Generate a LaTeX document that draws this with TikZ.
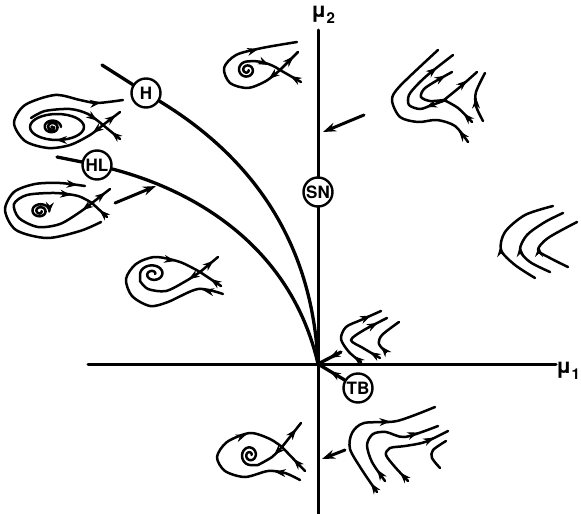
\documentclass[tikz,border=0pt]{standalone}
\usepackage{fontspec}
\setsansfont{TeX Gyre Heros}
\usetikzlibrary{arrows.meta,calc}

% arrowhead on the chord #2--#3, tip at fraction #1
\newcommand{\ftip}[3][0.6]{%
  \path ($#2!#1!#3$) coordinate (ft);
  \draw[tip] ($(ft)!1pt!#2$) -- (ft);}

\begin{document}
\begin{tikzpicture}[
    x=1pt, y=-1pt,
    line cap=round, line join=round,
    axis/.style={line width=3pt},
    bif/.style={line width=3.3pt},
    orbit/.style={line width=2.5pt},
    pointer/.style={line width=3pt, -{Stealth[length=13pt,width=9pt]}},
    tip/.style={line width=1pt, -{Stealth[length=11pt,width=8pt]}},
    bifpt/.style={
        circle,
        draw,
        line width=2.4pt,
        fill=white,
        minimum size=29pt,
        inner sep=0pt,
        font=\sffamily\bfseries\fontsize{17}{17}\selectfont
    },
    axlabel/.style={font=\sffamily\bfseries\fontsize{21}{21}\selectfont}
]
\useasboundingbox (0,0) rectangle (581,514);

% axes
\draw[axis] (88,364) -- (556,364);
\draw[axis] (318,30) -- (318,514);
\node[axlabel] (mu1) at (568,371) {μ\raisebox{-0.55ex}{\fontsize{15}{15}\selectfont 1}};
\node[axlabel] (mu2) at (323,15) {μ\raisebox{-0.55ex}{\fontsize{15}{15}\selectfont 2}};

% bifurcation curves
\coordinate (O) at (318,364);
\coordinate (Hs) at (102,65);
\coordinate (HLs) at (57,157);
\node[bifpt] (H) at (146,93) {H};
\node[bifpt] (HL) at (97,165) {HL};
\node[bifpt] (SN) at (318,192) {SN};
\node[bifpt] (TB) at (358,388) {TB};

\draw[bif] (Hs) -- (H);
\draw[bif] (H) .. controls (240,150) and (312,230) .. (O);
\draw[bif] (HLs) -- (HL);
\draw[bif] (HL) .. controls (200,192) and (292,250) .. (O);
\draw[bif] (TB) -- (O);
\ftip[0.7]{(358,388)}{(318,364)}

% region pointers
\coordinate (pE) at (341,352);
\coordinate (pF) at (364,115);
\coordinate (qF) at (323,132);
\coordinate (pC) at (115,203);
\coordinate (qC) at (156,186);
\coordinate (pI) at (345,450);
\coordinate (qI) at (322,459);
\draw[bif] (pE) -- (O);
\ftip[0.5]{(341,352)}{(318,364)}
\draw[pointer] (pF) -- (qF);
\draw[pointer] (pC) -- (qC);
\draw[pointer] (pI) -- (qI);

\begin{scope}[orbit]
% above H
\draw (280,70) -- (298,52);
\draw (301,82) -- (280,70);
\draw plot[smooth] coordinates {(280,70) (266,81) (248,88) (230,83) (224,68) (236,55) (262,48) (297,42)};
\draw plot[domain=0:630, samples=60, smooth, variable=\t] ({247+(1.5+7.5*\t/630)*cos(\t)}, {70+(1.5+7*\t/630)*sin(\t)}) .. controls (258,60) and (270,63) .. (280,70);
\ftip[0.75]{(280,70)}{(298,52)}
\ftip[0.5]{(301,82)}{(280,70)}
\ftip[0.8]{(280,70)}{(266,81)}
\ftip[0.85]{(236,55)}{(262,48)}
\ftip[0.5]{(258,60)}{(280,70)}

% between H and HL
\draw (103,125) -- (120,112);
\draw (120,139) -- (103,125);
\draw plot[smooth] coordinates {(103,125) (90,135) (70,145) (48,148) (25,141) (14,123) (25,105) (55,95) (80,100) (97,103) (123,100)};
\draw (57,127) ellipse [x radius=27, y radius=13];
\draw plot[smooth] coordinates {(31,118) (45,111) (70,109) (88,114) (103,125)};
\draw plot[domain=0:720, samples=60, smooth, variable=\t] ({52+(2+7*\t/720)*cos(\t)}, {127+(2+5*\t/720)*sin(\t)});
\fill (52,127) circle (1.8);
\ftip[0.75]{(103,125)}{(120,112)}
\ftip[0.5]{(120,139)}{(103,125)}
\ftip[0.8]{(103,125)}{(90,135)}
\ftip[0.15]{(97,103)}{(123,100)}
\ftip[0.6]{(65,140)}{(50,140)}
\ftip[0.6]{(88,114)}{(103,125)}

% on HL
\draw (92,203) -- (110,189);
\draw (107,217) -- (92,203);
\draw plot[smooth] coordinates {(92,203) (80,212) (60,224) (38,227) (19,218) (14,204) (27,195) (55,193) (78,196) (92,203)};
\draw plot[smooth] coordinates {(101,222) (80,231) (47,238) (16,230) (5,210) (14,192) (35,184) (60,183) (85,186)};
\draw plot[domain=0:720, samples=60, smooth, variable=\t] ({40+(1.5+8*\t/720)*cos(\t)}, {211+(1.5+6*\t/720)*sin(\t)});
\ftip[0.75]{(92,203)}{(110,189)}
\ftip[0.5]{(107,217)}{(92,203)}
\ftip[0.8]{(92,203)}{(80,212)}
\ftip[0.7]{(55,193)}{(78,196)}
\ftip[0.7]{(60,183)}{(85,186)}
\ftip[1]{(49.5,207)}{(49,213)}

% below HL
\draw (200,272) -- (218,257);
\draw (221,286) -- (200,272);
\draw plot[smooth] coordinates {(223,294) (198,289) (168,302) (150,306) (132,296) (126,279) (136,264) (155,257) (180,262) (200,272)};
\draw plot[smooth] coordinates {(200,272) (186,281) (166,291) (148,289) (140,281)} -- plot[domain=180:720, samples=50, smooth, variable=\t] ({153+(13-11*(\t-180)/540)*cos(\t)}, {274+(10-8.5*(\t-180)/540)*sin(\t)});
\ftip[0.75]{(200,272)}{(218,257)}
\ftip[0.5]{(221,286)}{(200,272)}
\ftip[0.8]{(223,294)}{(198,289)}
\ftip[0.8]{(155,257)}{(180,262)}
\ftip[0.8]{(200,272)}{(186,281)}

% near TB
\draw plot[smooth] coordinates {(361,362) (349,352) (341,339) (346,327) (361,320) (381,311)};
\draw plot[smooth] coordinates {(380,358) (363,348) (351,340) (364,330) (387,318)};
\draw plot[smooth] coordinates {(386,352) (379,344) (382,335) (399,322)};
\ftip[0.6]{(361,362)}{(349,352)}
\ftip[0.5]{(361,320)}{(381,311)}
\ftip[0.6]{(380,358)}{(363,348)}
\ftip[0.6]{(364,330)}{(387,318)}
\ftip[0.7]{(386,352)}{(379,344)}

% right of SN
\draw plot[smooth] coordinates {(468,142) (455,126) (437,120) (418,122) (400,117) (392,100) (400,86) (438,50)};
\draw plot[smooth] coordinates {(446,100) (432,105) (420,109) (409,105) (409,95) (418,84) (430,73) (453,55)};
\draw plot[smooth] coordinates {(444,100) (430,101) (421,97) (424,89) (436,81) (452,72)};
\draw plot[smooth] coordinates {(444,100) (460,87) (477,72)};
\draw plot[smooth] coordinates {(472,122) (458,108) (444,100)};
\draw plot[smooth] coordinates {(483,121) (476,106) (476,92) (485,73)};
\ftip[0.7]{(468,142)}{(455,126)}
\ftip[0.5]{(432,105)}{(420,109)}
\ftip[0.3]{(430,73)}{(453,55)}
\ftip[0.6]{(436,81)}{(452,72)}
\ftip[0.7]{(444,100)}{(477,72)}
\ftip[0.6]{(472,122)}{(458,108)}
\ftip[0.6]{(476,106)}{(476,92)}

% far right
\draw plot[smooth] coordinates {(535,278) (515,265) (501,250) (505,232) (525,215) (553,206)};
\draw plot[smooth] coordinates {(550,272) (530,262) (520,250) (527,235) (545,222) (563,213)};
\draw plot[smooth] coordinates {(568,267) (550,258) (538,250) (548,238) (577,222)};
\ftip[1]{(501,254)}{(500.5,246)}
\ftip[1]{(520.5,254)}{(520,246)}
\ftip[1]{(539,254)}{(539,246)}

% lower left
\draw (282,447) -- (301,423);
\draw (305,471) -- (282,447);
\draw plot[smooth] coordinates {(300,480) (285,473) (268,471) (245,477) (225,471) (217,457) (227,442) (250,433) (270,439) (282,447)};
\draw plot[smooth] coordinates {(282,447) (272,457) (258,465)} -- plot[domain=90:720, samples=50, smooth, variable=\t] ({250+(9-7.5*(\t-90)/630)*cos(\t)}, {455+(10-8.5*(\t-90)/630)*sin(\t)});
\ftip[0.75]{(282,447)}{(301,423)}
\ftip[0.5]{(305,471)}{(282,447)}
\ftip[0.6]{(285,473)}{(268,471)}
\ftip[0.85]{(227,442)}{(250,433)}
\ftip[0.8]{(282,447)}{(272,457)}

% lower right
\draw plot[smooth] coordinates {(377,492) (362,470) (350,449) (352,433) (364,423) (397,421) (435,407)};
\draw plot[smooth] coordinates {(385,481) (372,462) (367,445) (373,434) (386,432) (405,437) (438,426)};
\draw plot[smooth] coordinates {(408,481) (395,467) (386,455) (390,448) (405,446) (425,442) (448,431)};
\draw plot[smooth] coordinates {(440,468) (432,458) (433,450) (446,441)};
\ftip[0.4]{(377,492)}{(362,470)}
\ftip[0.8]{(364,423)}{(397,421)}
\ftip[0.6]{(385,481)}{(372,462)}
\ftip[0.4]{(405,437)}{(438,426)}
\ftip[0.6]{(408,481)}{(395,467)}
\ftip[0.4]{(425,442)}{(448,431)}
\end{scope}

\end{tikzpicture}
\end{document}
